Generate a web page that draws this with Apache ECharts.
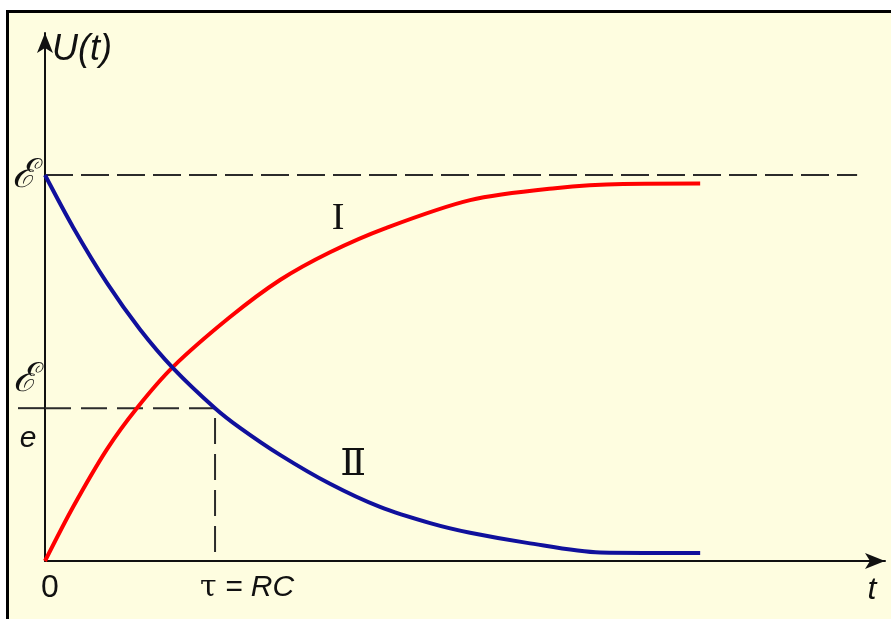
<!DOCTYPE html>
<html>
<head>
<meta charset="utf-8">
<script src="https://cdn.jsdelivr.net/npm/echarts@6/dist/echarts.min.js"></script>
<style>
	html, body { margin: 0; background: #ffffff; overflow: hidden; }
	#frame {
		position: absolute; left: 6px; top: 10px; width: 882px; height: 606px;
		background: #fefde0; border-left: 3px solid #000; border-top: 3px solid #000;
	}
	#main { position: absolute; left: 0; top: 0; width: 891px; height: 619px; }
</style>
</head>
<body>
<div id="frame"></div>
<div id="main"></div>
<script>
// кривая I (зарядка) и кривая II (разрядка), t в единицах tau, U в единицах E
var tCharge = [0, 0.165, 0.365, 0.54, 0.753, 1.088, 1.382, 1.676, 2.0, 2.5, 3.0, 3.4, 3.853];
var uCharge = [0, 0.14, 0.29, 0.396, 0.503, 0.632, 0.728, 0.800, 0.862, 0.935, 0.966, 0.977, 0.978];
var tDischarge = [0, 0.165, 0.365, 0.559, 0.753, 1.0, 1.147, 1.382, 1.676, 1.97, 2.265, 2.5, 2.835, 3.265, 3.576, 3.853];
var uDischarge = [1, 0.865, 0.72, 0.6, 0.5, 0.396, 0.345, 0.275, 0.2, 0.14, 0.098, 0.073, 0.047, 0.022, 0.021, 0.021];
var levelE = 1;
var levelEe = 0.396;
var tau = 1;
var tEnd = 4.776;

function pairs(ts, us) {
	return ts.map(function (t, i) { return [t, us[i]]; });
}

var chartDom = document.getElementById('main');
var myChart = echarts.init(chartDom);
var dash = { color: '#2b2b2b', width: 2, type: [28, 8] };
var option = {
	animation: false,
	grid: { left: 45, right: 6, top: 33, bottom: 58 },
	xAxis: {
		type: 'value', min: 0, max: 4.94,
		axisLine: { lineStyle: { color: '#111', width: 2 }, symbol: ['none', 'arrow'], symbolSize: [12, 20] },
		axisTick: { show: false }, axisLabel: { show: false }, splitLine: { show: false },
	},
	yAxis: {
		type: 'value', min: 0, max: 1.368,
		axisLine: { lineStyle: { color: '#111', width: 2 }, symbol: ['none', 'arrow'], symbolSize: [12, 20] },
		axisTick: { show: false }, axisLabel: { show: false }, splitLine: { show: false },
	},
	series: [
		{ type: 'line', data: [[0, levelE], [tEnd, levelE]], symbol: 'none', lineStyle: dash, z: 1 },
		{ type: 'line', data: [[0, levelEe], [tau, levelEe], [tau, 0]], symbol: 'none', lineStyle: { color: '#2b2b2b', width: 2, type: [26, 10] }, z: 1 },
		{ name: 'I', type: 'line', data: pairs(tCharge, uCharge), smooth: 0.3, symbol: 'none', lineStyle: { color: '#ff0000', width: 4 }, z: 3 },
		{ name: 'II', type: 'line', data: pairs(tDischarge, uDischarge), smooth: 0.3, symbol: 'none', lineStyle: { color: '#10109c', width: 4 }, z: 3 },
	],
};
myChart.setOption(option);

// подписи ставим от пикселей, посчитанных самой осью
function px(t, u) { return myChart.convertToPixel({ gridIndex: 0 }, [t, u]); }
var italic = { fontStyle: 'italic', fontFamily: 'Liberation Sans Narrow, Liberation Sans, sans-serif', fill: '#111' };
function txt(p, dx, dy, text, size, extra) {
	var style = Object.assign({}, italic, { text: text, fontSize: size, align: 'center', verticalAlign: 'middle' }, extra || {});
	return { type: 'text', x: p[0] + dx, y: p[1] + dy, style: style, z: 10 };
}
var pE = px(0, levelE), pEe = px(0, levelEe), p0 = px(0, 0), pTau = px(tau, 0), pTop = px(0, 1.368), pEndX = px(4.94, 0);
myChart.setOption({
	graphic: [
		{ type: 'line', shape: { x1: pEe[0] - 27, y1: pEe[1], x2: pEe[0], y2: pEe[1] }, style: { stroke: '#2b2b2b', lineWidth: 2 } },
		txt(pE, -21, 2, 'ℰ', 40, { fontFamily: 'DejaVu Serif, serif' }),
		txt(pEe, -20, -28, 'ℰ', 40, { fontFamily: 'DejaVu Serif, serif' }),
		txt(pEe, -17, 30, 'e', 30),
		txt(pTop, 7, 17, 'U(t)', 36, { align: 'left' }),
		txt(p0, 5, 27, '0', 32, { fontStyle: 'normal' }),
		txt(pTau, -15, 27, '', 30, {
			align: 'left',
			rich: {
				g: { fontSize: 30, fontFamily: 'DejaVu Serif, serif', fontStyle: 'normal' },
				n: { fontSize: 30, fontStyle: 'italic', fontFamily: 'Liberation Sans Narrow, Liberation Sans, sans-serif' },
			},
			text: '{g|τ} {n|= RC}',
		}),
		txt(pEndX, -13, 29, 't', 32),
		txt(px(1.723, 0.885), 0, 0, 'I', 38, { fontStyle: 'normal', fontFamily: 'Liberation Serif, serif' }),
		txt(px(1.812, 0.249), 0, 0, 'Ⅱ', 38, { fontStyle: 'normal', fontFamily: 'DejaVu Serif, serif' }),
	],
});
window.addEventListener('resize', function () {
	myChart.resize();
});
</script>
</body>
</html>
